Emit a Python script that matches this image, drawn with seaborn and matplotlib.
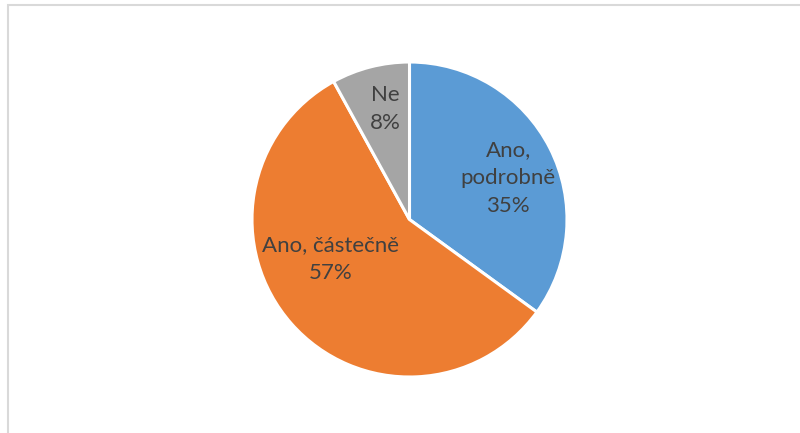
import matplotlib
matplotlib.use("Agg")
import matplotlib.pyplot as plt
import seaborn as sns
import numpy as np
from matplotlib.patches import Rectangle

categories = ["Ano, podrobně", "Ano, částečně", "Ne"]
values = [35, 57, 8]
label_texts = ["Ano,\npodrobně\n35%", "Ano, částečně\n57%", "Ne\n8%"]
colors = ["#5B9BD5", "#ED7D31", "#A5A5A5"]

sns.set_theme(style="white")
plt.rcParams['font.family'] = ['Lato', 'DejaVu Sans']

fig = plt.figure(figsize=(8, 4.33), dpi=100)
fig.patch.set_facecolor("white")
# chart border (light gray frame)
fig.patches.append(Rectangle((8/800, -0.1), 1.2, 1 - 5/433 + 0.1, transform=fig.transFigure,
                             fill=False, edgecolor="#D9D9D9", linewidth=1.5, zorder=0))

ax = fig.add_axes([252/800, 56/433, 315/800, 315/433])
wedges, _ = ax.pie(values, colors=colors, startangle=90, counterclock=False,
                   radius=1, wedgeprops=dict(edgecolor="white", linewidth=2.2))
ax.set_xlim(-1, 1)
ax.set_ylim(-1, 1)
ax.set_aspect("equal")
ax.axis("off")

# label placement: (fraction of radius, angle offset from wedge mid)
label_pos = [(0.68, -4), (0.56, -15), (0.72, -2)]
for w, txt, (rfrac, dang) in zip(wedges, label_texts, label_pos):
    mid = np.deg2rad((w.theta1 + w.theta2) / 2 + dang)
    x, y = rfrac * np.cos(mid), rfrac * np.sin(mid)
    ax.text(x, y, txt, ha="center", va="center", fontsize=16, color="#404040",
            linespacing=1.5)

fig.savefig("out.png", dpi=100)
